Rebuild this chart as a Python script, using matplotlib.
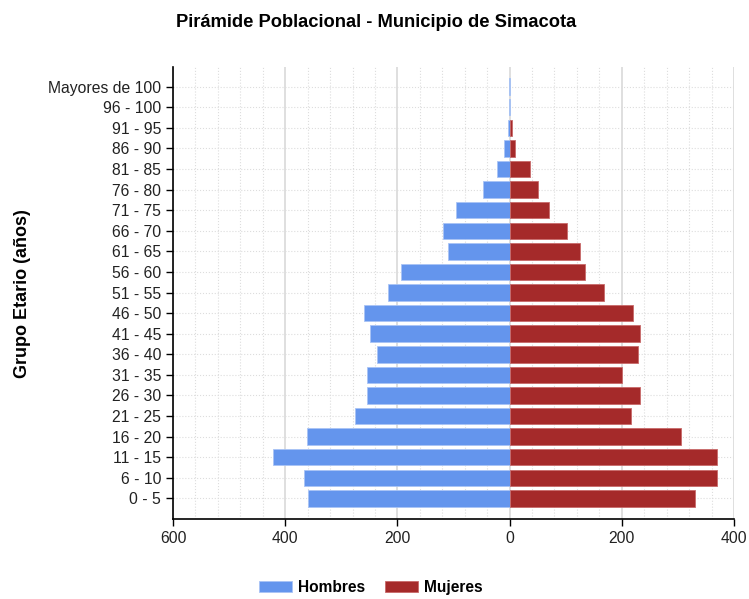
import matplotlib
matplotlib.use("Agg")
import matplotlib.pyplot as plt
from matplotlib.ticker import MultipleLocator, FuncFormatter

plt.rcParams['font.family'] = ['Liberation Sans', 'DejaVu Sans']

# grupos de edad, de abajo hacia arriba
grupos = ["0 - 5", "6 - 10", "11 - 15", "16 - 20", "21 - 25", "26 - 30", "31 - 35",
          "36 - 40", "41 - 45", "46 - 50", "51 - 55", "56 - 60", "61 - 65", "66 - 70",
          "71 - 75", "76 - 80", "81 - 85", "86 - 90", "91 - 95", "96 - 100", "Mayores de 100"]
hombres = [360, 367, 421, 362, 276, 254, 254, 236, 249, 259, 216, 193, 109, 119,
           96, 48, 23, 10, 3, 1, 1]
mujeres = [331, 369, 369, 306, 217, 233, 200, 228, 233, 220, 169, 134, 126, 103,
           70, 50, 37, 9, 5, 0, 0]

azul = "#6495ED"
rojo = "#A52A2A"

fig = plt.figure(figsize=(7.49, 5.99), dpi=100)
ax = fig.add_axes([0.231, 0.1336, 0.749, 0.7544])

y = list(range(len(grupos)))
ax.barh(y, [-h for h in hombres], height=0.8, color=azul, edgecolor="#a9c4f5",
        linewidth=[0.6 if h else 0 for h in hombres], label="Hombres", zorder=3)
ax.barh(y, mujeres, height=0.8, color=rojo, edgecolor="#c86a6a",
        linewidth=[0.6 if m else 0 for m in mujeres], label="Mujeres", zorder=3)

ax.set_xlim(-600, 400)
ax.set_ylim(-1, 20.95)
ax.set_yticks(y)
ax.set_yticklabels(grupos)
ax.xaxis.set_major_locator(MultipleLocator(200))
ax.xaxis.set_minor_locator(MultipleLocator(40))
ax.xaxis.set_major_formatter(FuncFormatter(lambda v, p: f"{abs(int(v))}"))

ax.grid(axis="x", which="major", color="#d9d9d9", linewidth=1.2, zorder=0)
ax.grid(axis="x", which="minor", color="#dddddd", linestyle=":", linewidth=0.8, zorder=0)
ax.grid(axis="y", which="major", color="#dddddd", linestyle=":", linewidth=0.8, zorder=0)
ax.tick_params(axis="x", which="minor", length=0)
ax.tick_params(axis="both", which="major", labelsize=11.3, labelcolor="#222222",
               color="black", length=5, width=1)

for s in ["top", "right"]:
    ax.spines[s].set_visible(False)
ax.spines["left"].set_linewidth(1.2)
ax.spines["bottom"].set_linewidth(1.2)

fig.text(0.502, 0.963, "Pirámide Poblacional - Municipio de Simacota", ha="center", va="center",
         fontsize=13.2, fontweight="bold")
fig.text(0.03, 0.51, "Grupo Etario (años)", rotation=90, ha="center", va="center",
         fontsize=13, fontweight="bold")

fig.legend(loc="center", bbox_to_anchor=(0.495, 0.019), ncol=2, frameon=False,
           prop={"weight": "bold", "size": 11.2}, handlelength=2.1, handleheight=0.75,
           handletextpad=0.4, columnspacing=1.3)

fig.savefig("out.png", dpi=100)
